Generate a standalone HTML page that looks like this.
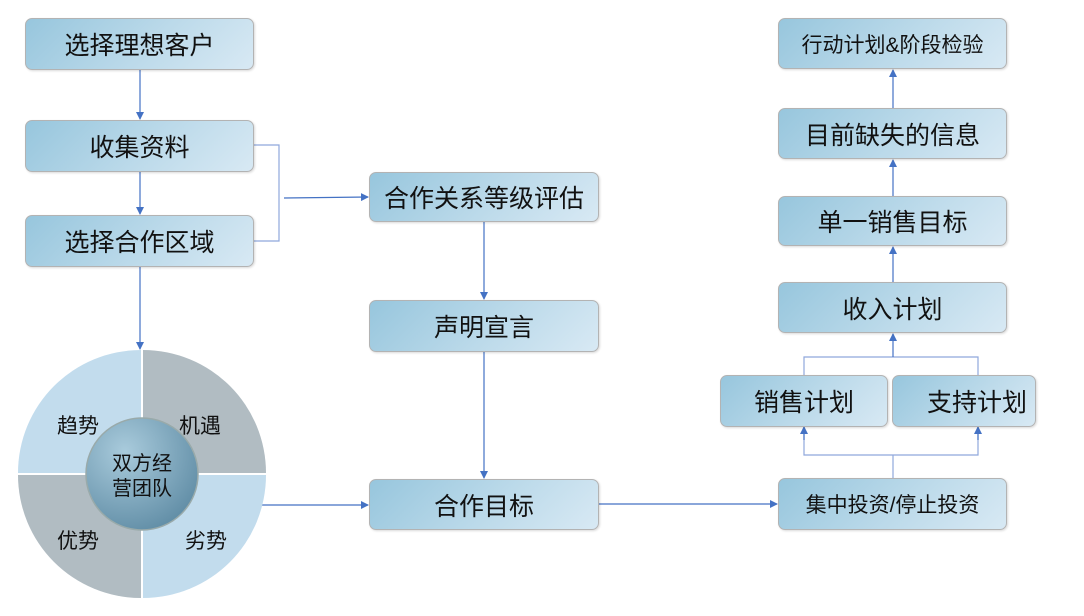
<!DOCTYPE html>
<html><head><meta charset="utf-8"><style>
body{margin:0;width:1084px;height:616px;background:#fff;position:relative;overflow:hidden;font-family:"Liberation Sans","Noto Sans CJK SC",sans-serif}
.b{position:absolute;box-sizing:border-box;border:1.5px solid #b3b3b3;border-radius:7px;background:linear-gradient(135deg,#97c6dd 0%,#bcdaea 55%,#d8e9f4 100%);display:flex;align-items:center;justify-content:center;font-size:25px;color:#111;box-shadow:1px 1px 2px rgba(0,0,0,.15)}
.s{font-size:21px}
svg{position:absolute;left:0;top:0}
</style></head><body>
<svg width="1084" height="616">
<defs><marker id="a" markerWidth="8" markerHeight="8" refX="7" refY="4" orient="auto" markerUnits="userSpaceOnUse"><path d="M0,0 L8,4 L0,8z" fill="#4472c4"/></marker>
<radialGradient id="g" cx="35%" cy="30%" r="80%"><stop offset="0" stop-color="#a9cbdc"/><stop offset="1" stop-color="#5d8aa3"/></radialGradient></defs>
<g stroke="#4472c4" stroke-width="1.2" fill="none">
<line x1="140" y1="70" x2="140" y2="119" marker-end="url(#a)"/>
<line x1="140" y1="172" x2="140" y2="214" marker-end="url(#a)"/>
<line x1="140" y1="267" x2="140" y2="349" marker-end="url(#a)"/>
<polyline points="254,145 279,145 279,241 254,241" stroke="#8fa8dc"/>
<line x1="284" y1="198" x2="368" y2="197" marker-end="url(#a)"/>
<line x1="484" y1="222" x2="484" y2="299" marker-end="url(#a)"/>
<line x1="484" y1="352" x2="484" y2="478" marker-end="url(#a)"/>
<line x1="262" y1="505" x2="368" y2="505" marker-end="url(#a)"/>
<line x1="599" y1="504" x2="777" y2="504" marker-end="url(#a)"/>
<polyline points="893,478 893,455" stroke="#8fa8dc"/>
<polyline points="804,426 804,455 978,455 978,426" stroke="#8fa8dc"/>
<line x1="804" y1="440" x2="804" y2="427" marker-end="url(#a)"/>
<line x1="978" y1="440" x2="978" y2="427" marker-end="url(#a)"/>
<polyline points="804,375 804,357 978,357 978,375" stroke="#8fa8dc"/>
<line x1="893" y1="357" x2="893" y2="334" marker-end="url(#a)"/>
<line x1="893" y1="282" x2="893" y2="247" marker-end="url(#a)"/>
<line x1="893" y1="196" x2="893" y2="160" marker-end="url(#a)"/>
<line x1="893" y1="108" x2="893" y2="70" marker-end="url(#a)"/>
</g>
<g>
<path d="M141,473 L141,350 A123,123 0 0 0 18,473 Z" fill="#c2dced"/>
<path d="M143,473 L143,350 A123,123 0 0 1 266,473 Z" fill="#b1bcc2"/>
<path d="M141,475 L18,475 A123,123 0 0 0 141,598 Z" fill="#b1bcc2"/>
<path d="M143,475 L266,475 A123,123 0 0 1 143,598 Z" fill="#c2dced"/>
<circle cx="142" cy="474" r="56" fill="url(#g)" stroke="#9aa" stroke-width="1.5"/>
</g>
<g font-family="Liberation Sans,Noto Sans CJK SC,sans-serif" font-size="21" fill="#111" text-anchor="middle">
<text x="78" y="433">趋势</text><text x="200" y="433">机遇</text>
<text x="78" y="548">优势</text><text x="206" y="548">劣势</text>
<text x="142" y="470" font-size="20">双方经</text><text x="142" y="495" font-size="20">营团队</text>
</g>
</svg>
<div class="b" style="left:25px;top:18px;width:229px;height:52px">选择理想客户</div>
<div class="b" style="left:25px;top:120px;width:229px;height:52px">收集资料</div>
<div class="b" style="left:25px;top:215px;width:229px;height:52px">选择合作区域</div>
<div class="b" style="left:369px;top:172px;width:230px;height:50px">合作关系等级评估</div>
<div class="b" style="left:369px;top:300px;width:230px;height:52px">声明宣言</div>
<div class="b" style="left:369px;top:479px;width:230px;height:51px">合作目标</div>
<div class="b s" style="left:778px;top:18px;width:229px;height:51px">行动计划&amp;阶段检验</div>
<div class="b" style="left:778px;top:108px;width:229px;height:51px">目前缺失的信息</div>
<div class="b" style="left:778px;top:196px;width:229px;height:50px">单一销售目标</div>
<div class="b" style="left:778px;top:282px;width:229px;height:51px">收入计划</div>
<div class="b" style="left:720px;top:375px;width:168px;height:52px">销售计划</div>
<div class="b" style="left:892px;top:375px;width:144px;height:52px;padding-left:26px">支持计划</div>
<div class="b s" style="left:778px;top:478px;width:229px;height:52px">集中投资/停止投资</div>
</body></html>
